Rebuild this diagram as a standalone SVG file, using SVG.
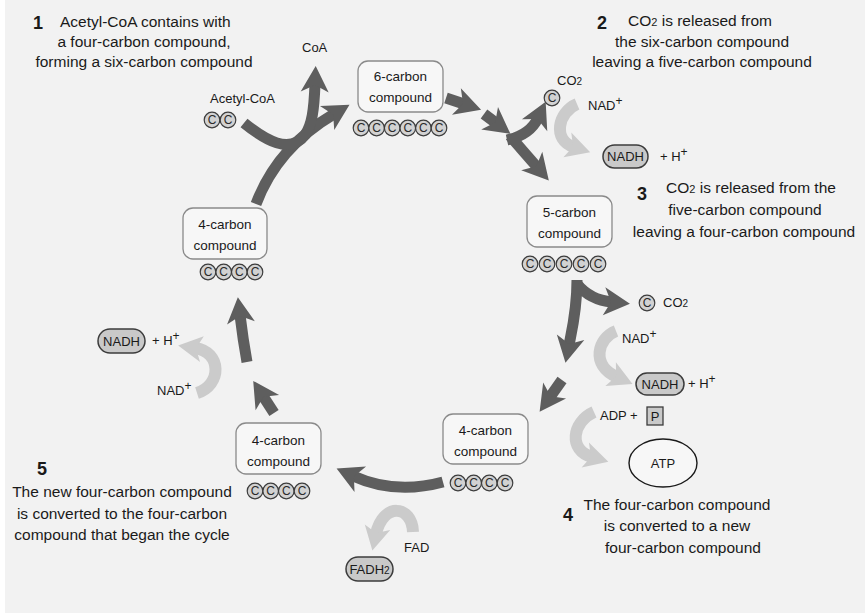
<svg xmlns="http://www.w3.org/2000/svg" width="865" height="613" viewBox="0 0 865 613">
<defs>
<style>
text{font-family:"Liberation Sans",Arial,sans-serif;fill:#1a1a1a}
.big{font-size:15.5px}
.num{font-size:18px;font-weight:bold}
.nt{font-size:13.5px;text-anchor:middle}
.lb{font-size:13px}
.box{fill:#f7f7f7;stroke:#8a8a8a;stroke-width:1.3}
.pill{fill:#c9c9c9;stroke:#3c3c3c;stroke-width:1.5}
.dk{fill:none;stroke:#5e5e5e;stroke-width:11;marker-end:url(#hd)}
.lt{fill:none;stroke:#cbcbcb;stroke-width:12;marker-end:url(#hl)}
</style>
<marker id="hd" markerUnits="userSpaceOnUse" viewBox="-10 -16 32 32" markerWidth="32" markerHeight="32" refX="0" refY="0" orient="auto">
<path d="M-8,-14 L18,0 L-8,14 L-1,0 Z" fill="#5e5e5e"/>
</marker>
<marker id="hl" markerUnits="userSpaceOnUse" viewBox="-10 -16 32 32" markerWidth="32" markerHeight="32" refX="0" refY="0" orient="auto">
<path d="M-7,-13 L17,0 L-7,13 L-1,0 Z" fill="#cbcbcb"/>
</marker>
<g id="cc"><circle r="7.8" fill="#d2d2d2" stroke="#3c3c3c" stroke-width="1.2"/><text y="4.2" font-size="12px" text-anchor="middle" style="fill:#2a2a2a">C</text></g>
</defs>
<rect width="865" height="613" fill="#ffffff"/>
<rect x="5" y="0" width="860" height="613" fill="#f2f2f2"/>

<g id="connectors">
<path class="dk" d="M256,204 C268,172 290,140 334,114"/>
<path class="dk" d="M244,123 C265,140 290,155 305,135 C312,125 314,110 315,84"/>
<path class="dk" d="M446,98 L464,104"/>
<path class="dk" d="M484,114 L496,123"/>
<path class="dk" d="M507,140 Q530,135 538,118"/>
<path class="dk" d="M510,136 L537,167"/>
<path class="dk" d="M577,280 C577,310 572,330 569,345"/>
<path class="dk" d="M577,284 Q590,300 612,302"/>
<path class="dk" d="M562,380 L550,397"/>
<path class="dk" d="M443,482 Q395,495 353,476"/>
<path class="dk" d="M274,413 L263,396"/>
<path class="dk" d="M247,362 Q243,340 240,315"/>
<path class="lt" d="M577,104 C558,112 552,140 574,147"/>
<path class="lt" d="M616,331 C598,338 590,365 617,377"/>
<path class="lt" d="M594,412 C572,422 568,450 592,457"/>
<path class="lt" d="M197,393 C222,385 222,352 195,348"/>
<path class="lt" d="M413,532 C412,505 383,502 376,534"/>
</g>

<g id="step1">
<text class="num" x="33" y="29">1</text>
<text class="big" x="60" y="27">Acetyl-CoA contains with</text>
<text class="big" x="144" y="47" text-anchor="middle">a four-carbon compound,</text>
<text class="big" x="144" y="67" text-anchor="middle">forming a six-carbon compound</text>
</g>
<g id="step2">
<text class="num" x="597" y="29">2</text>
<text class="big" x="700" y="26" text-anchor="middle">CO<tspan font-size="11">2</tspan> is released from</text>
<text class="big" x="702" y="47" text-anchor="middle">the six-carbon compound</text>
<text class="big" x="702" y="67" text-anchor="middle">leaving a five-carbon compound</text>
</g>
<g id="step3">
<text class="num" x="637" y="200">3</text>
<text class="big" x="751" y="193" text-anchor="middle">CO<tspan font-size="11">2</tspan> is released from the</text>
<text class="big" x="745" y="215" text-anchor="middle">five-carbon compound</text>
<text class="big" x="744" y="237" text-anchor="middle">leaving a four-carbon compound</text>
</g>
<g id="step4">
<text class="num" x="563" y="521">4</text>
<text class="big" x="677" y="510" text-anchor="middle">The four-carbon compound</text>
<text class="big" x="677" y="531" text-anchor="middle">is converted to a new</text>
<text class="big" x="683" y="553" text-anchor="middle">four-carbon compound</text>
</g>
<g id="step5">
<text class="num" x="37" y="475">5</text>
<text class="big" x="122" y="497" text-anchor="middle">The new four-carbon compound</text>
<text class="big" x="122" y="519" text-anchor="middle">is converted to the four-carbon</text>
<text class="big" x="122" y="540" text-anchor="middle">compound that began the cycle</text>
</g>

<g id="six-carbon">
<rect class="box" x="358" y="61" width="85" height="51" rx="10"/>
<text class="nt" x="400.5" y="81">6-carbon</text>
<text class="nt" x="400.5" y="102">compound</text>
<use href="#cc" x="361" y="128"/><use href="#cc" x="376.6" y="128"/><use href="#cc" x="392.2" y="128"/><use href="#cc" x="407.8" y="128"/><use href="#cc" x="423.4" y="128"/><use href="#cc" x="439" y="128"/>
</g>
<g id="five-carbon">
<rect class="box" x="527" y="196" width="85" height="51" rx="10"/>
<text class="nt" x="569.5" y="217">5-carbon</text>
<text class="nt" x="569.5" y="238">compound</text>
<use href="#cc" x="530" y="264"/><use href="#cc" x="547" y="264"/><use href="#cc" x="564" y="264"/><use href="#cc" x="581" y="264"/><use href="#cc" x="598" y="264"/>
</g>
<g id="four-carbon-a">
<rect class="box" x="183" y="208" width="84" height="51" rx="10"/>
<text class="nt" x="225" y="229">4-carbon</text>
<text class="nt" x="225" y="250">compound</text>
<use href="#cc" x="208" y="272"/><use href="#cc" x="223.7" y="272"/><use href="#cc" x="239.3" y="272"/><use href="#cc" x="255" y="272"/>
</g>
<g id="four-carbon-b">
<rect class="box" x="443" y="414" width="85" height="50" rx="10"/>
<text class="nt" x="485.5" y="435">4-carbon</text>
<text class="nt" x="485.5" y="456">compound</text>
<use href="#cc" x="458" y="483"/><use href="#cc" x="473.7" y="483"/><use href="#cc" x="489.3" y="483"/><use href="#cc" x="505" y="483"/>
</g>
<g id="four-carbon-c">
<rect class="box" x="236" y="423" width="85" height="51" rx="10"/>
<text class="nt" x="278.5" y="445">4-carbon</text>
<text class="nt" x="278.5" y="466">compound</text>
<use href="#cc" x="255" y="491"/><use href="#cc" x="270.7" y="491"/><use href="#cc" x="286.3" y="491"/><use href="#cc" x="302" y="491"/>
</g>

<g id="acetyl-coa">
<text class="lb" x="210" y="103">Acetyl-CoA</text>
<use href="#cc" x="212" y="120"/><use href="#cc" x="228" y="120"/>
</g>
<g id="coa"><text class="lb" x="302" y="52">CoA</text></g>

<g id="co2-a">
<text class="lb" x="557" y="85">CO<tspan font-size="10">2</tspan></text>
<use href="#cc" x="552" y="98"/>
</g>
<g id="nad-a"><text class="lb" x="588" y="110">NAD<tspan dy="-5" font-size="12">+</tspan></text></g>
<g id="nadh-a">
<rect class="pill" x="603" y="145" width="45" height="23" rx="11.5"/>
<text class="lb" x="625.5" y="161" text-anchor="middle">NADH</text>
<text class="lb" x="660" y="161">+ H<tspan dy="-5" font-size="12">+</tspan></text>
</g>

<g id="co2-b">
<use href="#cc" x="647" y="303"/>
<text class="lb" x="663" y="307">CO<tspan font-size="10">2</tspan></text>
</g>
<g id="nad-b"><text class="lb" x="622" y="343">NAD<tspan dy="-5" font-size="12">+</tspan></text></g>
<g id="nadh-b">
<rect class="pill" x="636" y="373" width="48" height="22" rx="11"/>
<text class="lb" x="660" y="389" text-anchor="middle">NADH</text>
<text class="lb" x="688" y="388">+ H<tspan dy="-5" font-size="12">+</tspan></text>
</g>
<g id="adp">
<text class="lb" x="600" y="420">ADP +</text>
<rect x="647" y="407" width="16" height="18" fill="#c9c9c9" stroke="#3c3c3c" stroke-width="1.3"/>
<text class="lb" x="655" y="421" text-anchor="middle">P</text>
</g>
<g id="atp">
<ellipse cx="663" cy="463" rx="34" ry="24" fill="#f7f7f7" stroke="#1a1a1a" stroke-width="1.4"/>
<text class="lb" x="663" y="468" text-anchor="middle">ATP</text>
</g>

<g id="nadh-c">
<rect class="pill" x="98" y="329" width="47" height="24" rx="12"/>
<text class="lb" x="121.5" y="346" text-anchor="middle">NADH</text>
<text class="lb" x="152" y="345">+ H<tspan dy="-5" font-size="12">+</tspan></text>
</g>
<g id="nad-c"><text class="lb" x="157" y="395">NAD<tspan dy="-5" font-size="12">+</tspan></text></g>

<g id="fad"><text class="lb" x="404" y="552">FAD</text></g>
<g id="fadh2">
<rect class="pill" x="346" y="557" width="47" height="24" rx="12"/>
<text class="lb" x="369.5" y="574" text-anchor="middle">FADH<tspan font-size="10">2</tspan></text>
</g>
</svg>
